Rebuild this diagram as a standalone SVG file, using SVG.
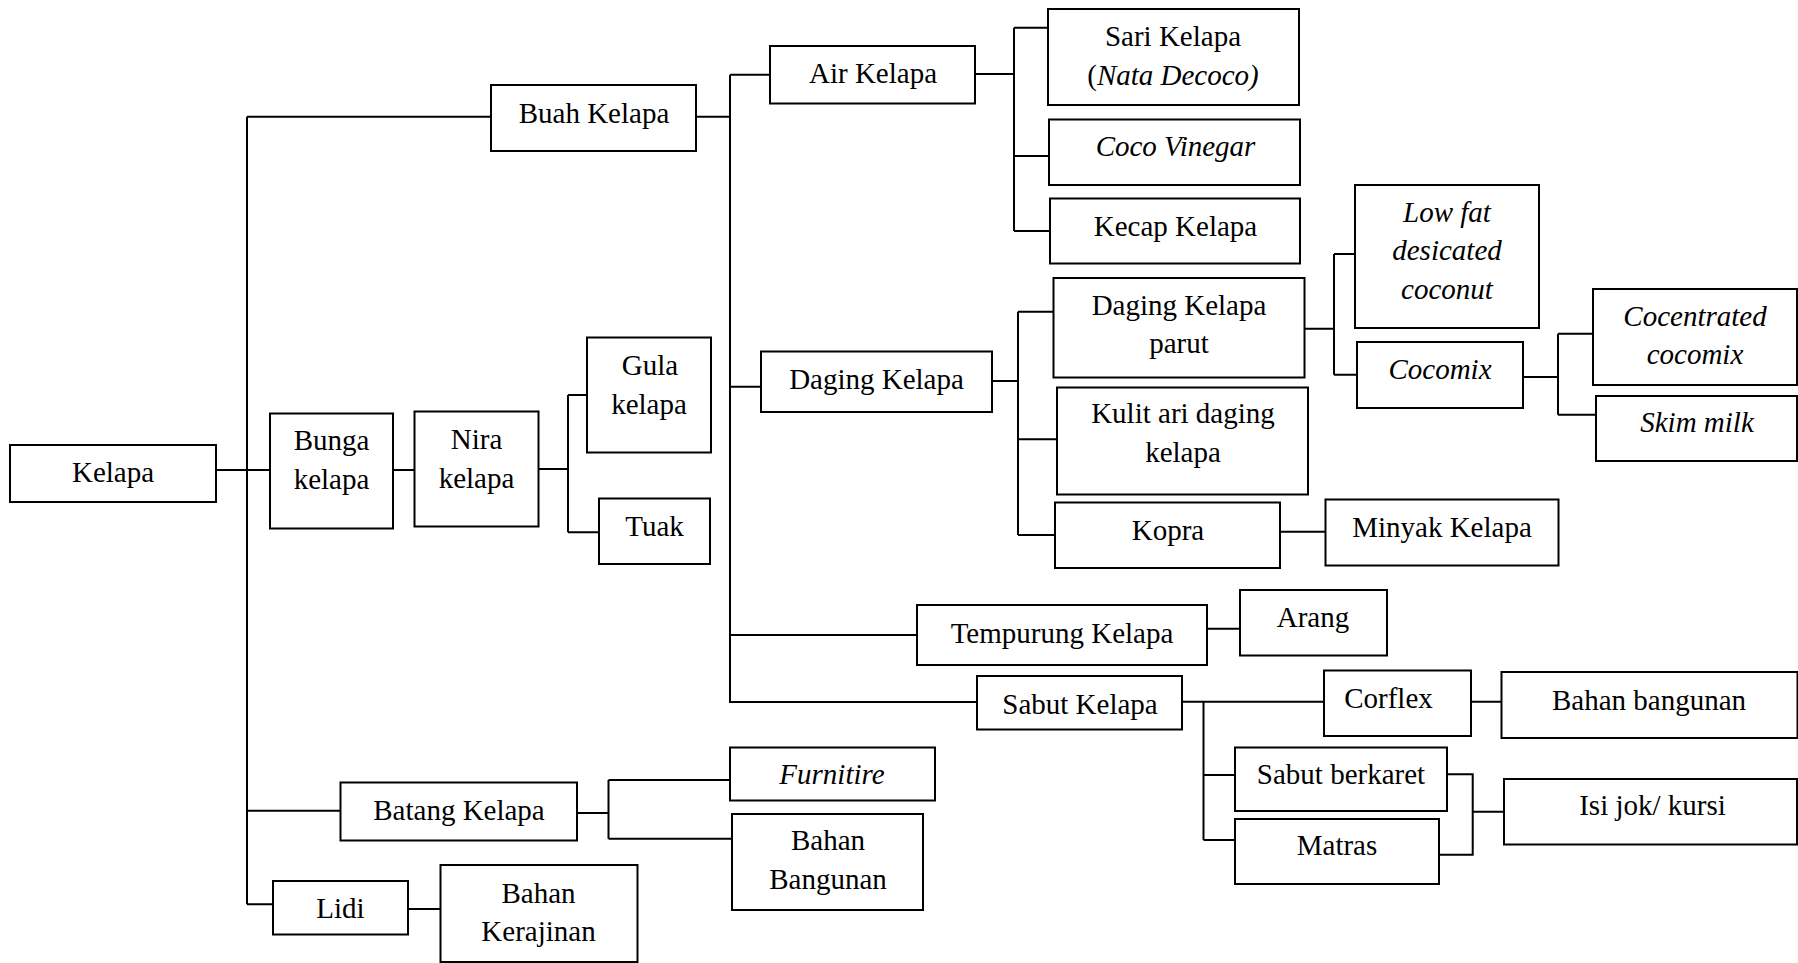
<svg xmlns="http://www.w3.org/2000/svg" width="1798" height="963" viewBox="0 0 1798 963">
<style>
rect{fill:#fff;stroke:#000;stroke-width:2}
.c path{fill:none;stroke:#000;stroke-width:2}
text{font-family:"Liberation Serif","Times New Roman",serif;font-size:29px;fill:#000;text-anchor:middle}
.i{font-style:italic}
</style>
<rect x="0" y="0" width="1798" height="963" style="stroke:none"/>
<g class="c" id="connectors">
<path d="M216,470H247M247,116.7V904.3M247,116.7H491M247,470H270M247,810.7H340M247,904.3H273"/>
<path d="M696,116.7H730M730,74.7V703M730,74.7H770M730,386.7H761M730,635H917M730,702H977"/>
<path d="M393,470H414.5M538,469H568M568,395V532.3M568,395H587M568,532.3H599"/>
<path d="M975,74H1014M1014,27.7V231M1014,27.7H1048M1014,156H1049M1014,231H1050"/>
<path d="M992,381H1018M1018,311.7V535M1018,311.7H1053.5M1018,439.3H1057M1018,535H1055"/>
<path d="M1304,328.7H1334M1334,254V374.7M1334,254H1355M1334,374.7H1357"/>
<path d="M1523,377H1558M1558,333.7V414.7M1558,333.7H1593M1558,414.7H1596"/>
<path d="M1280,531.7H1325.5M1207,628.7H1240"/>
<path d="M1182,701.7H1324M1203.5,701.7V840M1203.5,775H1235M1203.5,840H1235M1471,701.7H1501.5"/>
<path d="M1447,774.3H1472.7V854.7H1439M1472.7,811.7H1504"/>
<path d="M577,813H608.5M608.5,780V838.7M608.5,780H730M608.5,838.7H732M408,909H440"/>
</g>
<g id="kelapa"><rect x="10" y="445" width="206" height="57"/><text x="113" y="482">Kelapa</text></g>
<g id="buah"><rect x="491" y="85" width="205" height="66"/><text x="594" y="122.5">Buah Kelapa</text></g>
<g id="bunga"><rect x="270" y="413.5" width="123" height="115"/><text x="331.5" y="450">Bunga</text><text x="331.5" y="488.5">kelapa</text></g>
<g id="nira"><rect x="414.5" y="411.5" width="124" height="115"/><text x="476.5" y="448.5">Nira</text><text x="476.5" y="487.5">kelapa</text></g>
<g id="gula"><rect x="587" y="337.5" width="124" height="115"/><text x="650" y="375">Gula</text><text x="649" y="413.5">kelapa</text></g>
<g id="tuak"><rect x="599" y="498.5" width="111" height="65.5"/><text x="654.5" y="536">Tuak</text></g>
<g id="air"><rect x="770" y="46" width="205" height="57.5"/><text x="873" y="82.5">Air Kelapa</text></g>
<g id="daging"><rect x="761" y="351.5" width="231" height="60.5"/><text x="876.5" y="388.5">Daging Kelapa</text></g>
<g id="tempurung"><rect x="917" y="605" width="290" height="60"/><text x="1062" y="642.5">Tempurung Kelapa</text></g>
<g id="sabut"><rect x="977" y="676" width="205" height="53.5"/><text x="1080" y="713.5">Sabut Kelapa</text></g>
<g id="batang"><rect x="340.5" y="782.5" width="236.5" height="58"/><text x="459" y="819.5">Batang Kelapa</text></g>
<g id="lidi"><rect x="273" y="881" width="135" height="53.5"/><text x="340.5" y="917.5">Lidi</text></g>
<g id="kerajinan"><rect x="440.5" y="865" width="197" height="97"/><text x="538.5" y="903">Bahan</text><text x="538.5" y="941">Kerajinan</text></g>
<g id="furnitire"><rect x="730" y="747.5" width="205" height="53"/><text class="i" x="832" y="784">Furnitire</text></g>
<g id="bahanbangunan1"><rect x="732" y="814" width="191" height="96"/><text x="828" y="850">Bahan</text><text x="828" y="889">Bangunan</text></g>
<g id="sari"><rect x="1048" y="9" width="251" height="96"/><text x="1173" y="46">Sari Kelapa</text><text x="1173" y="84.5">(<tspan class="i">Nata Decoco)</tspan></text></g>
<g id="vinegar"><rect x="1049" y="119.5" width="251" height="65.5"/><text class="i" x="1175.5" y="156">Coco Vinegar</text></g>
<g id="kecap"><rect x="1050" y="198.5" width="250" height="65"/><text x="1175.5" y="235.5">Kecap Kelapa</text></g>
<g id="parut"><rect x="1053.5" y="278" width="251" height="99.5"/><text x="1179" y="314.5">Daging Kelapa</text><text x="1179" y="353">parut</text></g>
<g id="kulit"><rect x="1057" y="387.5" width="251" height="107"/><text x="1183" y="423">Kulit ari daging</text><text x="1183" y="461.5">kelapa</text></g>
<g id="kopra"><rect x="1055" y="502.5" width="225" height="65.5"/><text x="1168" y="540">Kopra</text></g>
<g id="minyak"><rect x="1325.5" y="499.5" width="233" height="66"/><text x="1442" y="537">Minyak Kelapa</text></g>
<g id="lowfat"><rect x="1355" y="185" width="184" height="143"/><text class="i" x="1447" y="222">Low fat</text><text class="i" x="1447" y="260">desicated</text><text class="i" x="1447" y="298.5">coconut</text></g>
<g id="cocomix"><rect x="1357" y="342" width="166" height="66"/><text class="i" x="1440" y="378.5">Cocomix</text></g>
<g id="concentrated"><rect x="1593" y="289" width="204" height="96"/><text class="i" x="1695" y="326">Cocentrated</text><text class="i" x="1695" y="364">cocomix</text></g>
<g id="skim"><rect x="1596" y="396" width="201" height="65"/><text class="i" x="1697" y="431.5">Skim milk</text></g>
<g id="arang"><rect x="1240" y="590" width="147" height="65.5"/><text x="1313" y="627">Arang</text></g>
<g id="corflex"><rect x="1324" y="670.5" width="147" height="65.5"/><text x="1388.5" y="707.5">Corflex</text></g>
<g id="bahanbangunan2"><rect x="1501.5" y="672" width="296" height="66"/><text x="1649" y="709.5">Bahan bangunan</text></g>
<g id="berkaret"><rect x="1235" y="747.5" width="212" height="63.5"/><text x="1341" y="784">Sabut berkaret</text></g>
<g id="matras"><rect x="1235" y="819" width="204" height="65"/><text x="1337" y="855">Matras</text></g>
<g id="isijok"><rect x="1504" y="779" width="293" height="65.5"/><text x="1652.5" y="815">Isi jok/ kursi</text></g>
</svg>
